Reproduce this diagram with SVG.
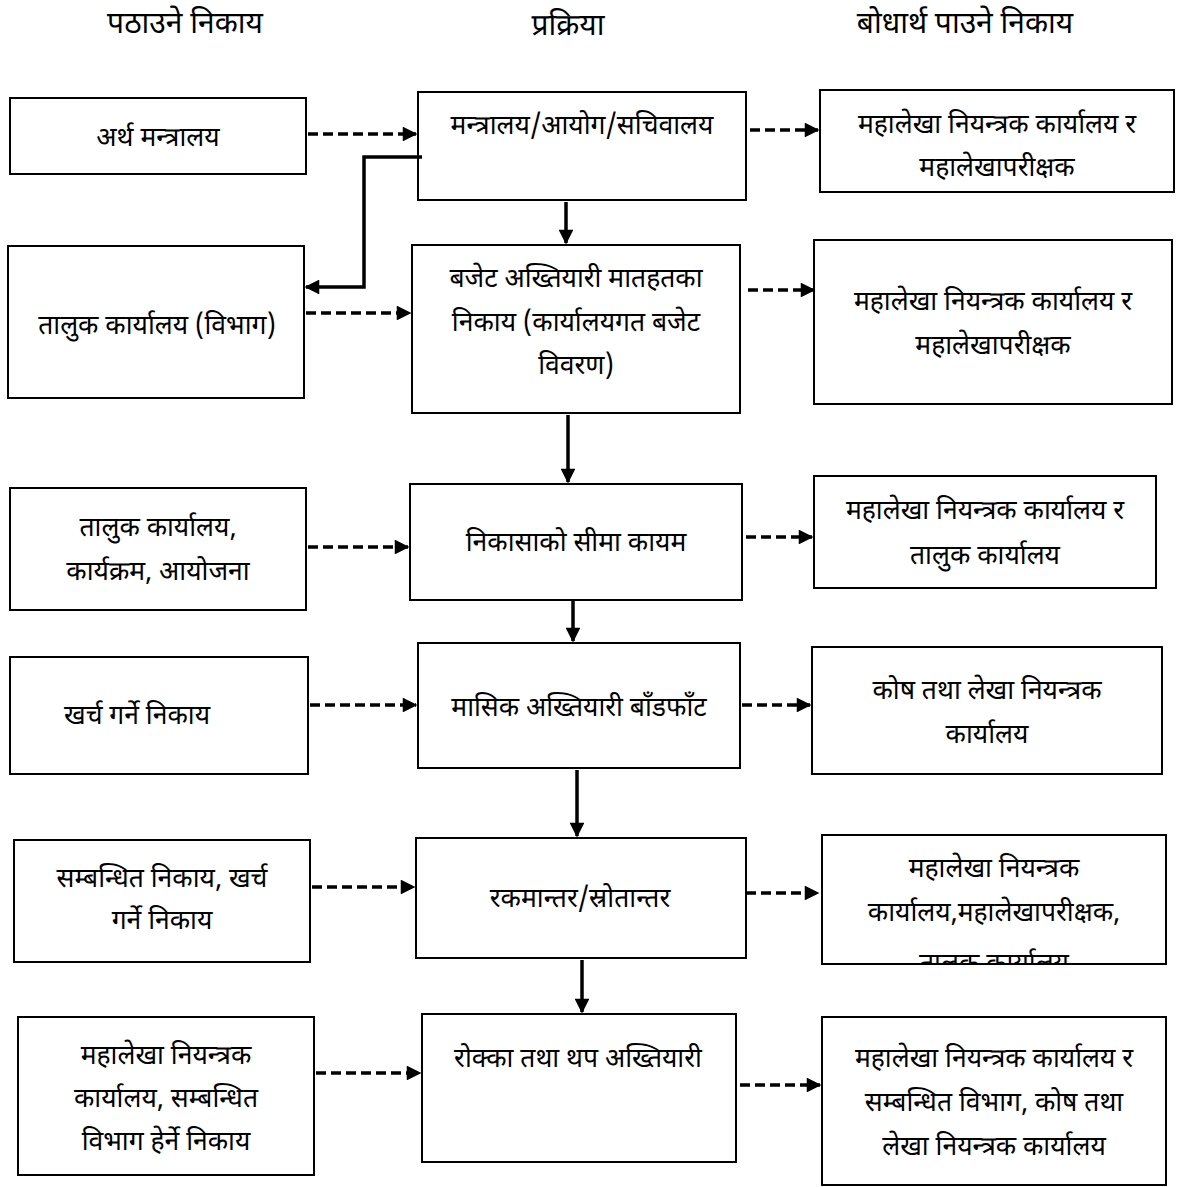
<svg xmlns="http://www.w3.org/2000/svg" width="1179" height="1187" viewBox="0 0 1179 1187">
<style>
  text { font-family: "Noto Sans Devanagari", "Noto Sans", "Liberation Sans", sans-serif; font-size: 26.5px; fill: #000; text-anchor: middle; }
  .hd { font-size: 30px; }
  .box { fill: #fff; stroke: #000; stroke-width: 2; }
  .dash { fill: none; stroke: #000; stroke-width: 3.5; stroke-dasharray: 10 5; }
  .solid { fill: none; stroke: #000; stroke-width: 3.5; }
</style>
<defs>
  <marker id="ah" viewBox="0 0 10 10" refX="9" refY="5" markerWidth="4.6" markerHeight="4.2" orient="auto" markerUnits="strokeWidth">
    <path d="M0,0 L10,5 L0,10 z" fill="#000"/>
  </marker>
  <clipPath id="clipR5"><rect x="822" y="835" width="344" height="129"/></clipPath>
</defs>
<rect width="1179" height="1187" fill="#fff"/>

<!-- column headings -->
<g id="headings">
  <text class="hd" x="185" y="33">पठाउने निकाय</text>
  <text class="hd" x="568" y="35">प्रक्रिया</text>
  <text class="hd" x="965" y="33">बोधार्थ पाउने निकाय</text>
</g>

<!-- sending bodies -->
<g id="s1"><rect class="box" x="10" y="98" width="296" height="76"/><text x="158" y="146">अर्थ मन्त्रालय</text></g>
<g id="s2"><rect class="box" x="8" y="246" width="296" height="152"/><text x="157" y="334">तालुक कार्यालय (विभाग)</text></g>
<g id="s3"><rect class="box" x="10" y="488" width="296" height="122"/><text x="158" y="536">तालुक कार्यालय,</text><text x="158" y="580">कार्यक्रम, आयोजना</text></g>
<g id="s4"><rect class="box" x="10" y="657" width="298" height="117"/><text x="137" y="724">खर्च गर्ने निकाय</text></g>
<g id="s5"><rect class="box" x="14" y="840" width="296" height="122"/><text x="162" y="887">सम्बन्धित निकाय, खर्च</text><text x="162" y="929">गर्ने निकाय</text></g>
<g id="s6"><rect class="box" x="18" y="1017" width="296" height="158"/><text x="166" y="1064">महालेखा नियन्त्रक</text><text x="166" y="1107">कार्यालय, सम्बन्धित</text><text x="166" y="1150">विभाग हेर्ने निकाय</text></g>

<!-- process steps -->
<g id="p1"><rect class="box" x="418" y="92" width="328" height="108"/><text x="582" y="134">मन्त्रालय/आयोग/सचिवालय</text></g>
<g id="p2"><rect class="box" x="412" y="245" width="328" height="168"/><text x="576" y="287">बजेट अख्तियारी मातहतका</text><text x="576" y="331">निकाय (कार्यालयगत बजेट</text><text x="576" y="374">विवरण)</text></g>
<g id="p3"><rect class="box" x="410" y="484" width="332" height="116"/><text x="576" y="551">निकासाको सीमा कायम</text></g>
<g id="p4"><rect class="box" x="418" y="643" width="322" height="125"/><text x="579" y="716">मासिक अख्तियारी बाँडफाँट</text></g>
<g id="p5"><rect class="box" x="416" y="838" width="330" height="120"/><text x="580" y="907">रकमान्तर/स्रोतान्तर</text></g>
<g id="p6"><rect class="box" x="422" y="1014" width="314" height="148"/><text x="578" y="1067">रोक्का तथा थप अख्तियारी</text></g>

<!-- copy recipients -->
<g id="r1"><rect class="box" x="820" y="90" width="354" height="102"/><text x="997" y="133">महालेखा नियन्त्रक कार्यालय र</text><text x="997" y="176">महालेखापरीक्षक</text></g>
<g id="r2"><rect class="box" x="814" y="240" width="358" height="164"/><text x="993" y="310">महालेखा नियन्त्रक कार्यालय र</text><text x="993" y="354">महालेखापरीक्षक</text></g>
<g id="r3"><rect class="box" x="814" y="476" width="342" height="112"/><text x="985" y="519">महालेखा नियन्त्रक कार्यालय र</text><text x="985" y="564">तालुक कार्यालय</text></g>
<g id="r4"><rect class="box" x="812" y="647" width="350" height="127"/><text x="987" y="699">कोष तथा लेखा नियन्त्रक</text><text x="987" y="743">कार्यालय</text></g>
<g id="r5"><rect class="box" x="822" y="835" width="344" height="129"/><g clip-path="url(#clipR5)"><text x="994" y="877">महालेखा नियन्त्रक</text><text x="994" y="921">कार्यालय,महालेखापरीक्षक,</text><text x="994" y="972">तालुक कार्यालय</text></g><rect x="822" y="835" width="344" height="129" fill="none" stroke="#000" stroke-width="2"/></g>
<g id="r6"><rect class="box" x="822" y="1017" width="344" height="168"/><text x="994" y="1067">महालेखा नियन्त्रक कार्यालय र</text><text x="994" y="1111">सम्बन्धित विभाग, कोष तथा</text><text x="994" y="1155">लेखा नियन्त्रक कार्यालय</text></g>

<!-- connectors -->
<g id="connectors">
  <line class="dash" x1="308" y1="134" x2="416" y2="134" marker-end="url(#ah)"/>
  <line class="dash" x1="750" y1="130" x2="818" y2="130" marker-end="url(#ah)"/>
  <line class="dash" x1="306" y1="313" x2="410" y2="313" marker-end="url(#ah)"/>
  <line class="dash" x1="748" y1="290" x2="814" y2="290" marker-end="url(#ah)"/>
  <line class="dash" x1="308" y1="547" x2="408" y2="547" marker-end="url(#ah)"/>
  <line class="dash" x1="746" y1="537" x2="812" y2="537" marker-end="url(#ah)"/>
  <line class="dash" x1="310" y1="705" x2="416" y2="705" marker-end="url(#ah)"/>
  <line class="dash" x1="742" y1="705" x2="810" y2="705" marker-end="url(#ah)"/>
  <line class="dash" x1="312" y1="887" x2="414" y2="887" marker-end="url(#ah)"/>
  <line class="dash" x1="746" y1="893" x2="818" y2="893" marker-end="url(#ah)"/>
  <line class="dash" x1="316" y1="1073" x2="420" y2="1073" marker-end="url(#ah)"/>
  <line class="dash" x1="740" y1="1085" x2="820" y2="1085" marker-end="url(#ah)"/>

  <line class="solid" x1="566" y1="202" x2="566" y2="243" marker-end="url(#ah)"/>
  <line class="solid" x1="568" y1="415" x2="568" y2="482" marker-end="url(#ah)"/>
  <line class="solid" x1="573" y1="601" x2="573" y2="641" marker-end="url(#ah)"/>
  <line class="solid" x1="577" y1="770" x2="577" y2="836" marker-end="url(#ah)"/>
  <line class="solid" x1="582" y1="960" x2="582" y2="1012" marker-end="url(#ah)"/>

  <polyline class="solid" points="422,157 364,157 364,287 306,287" marker-end="url(#ah)"/>
</g>
</svg>
